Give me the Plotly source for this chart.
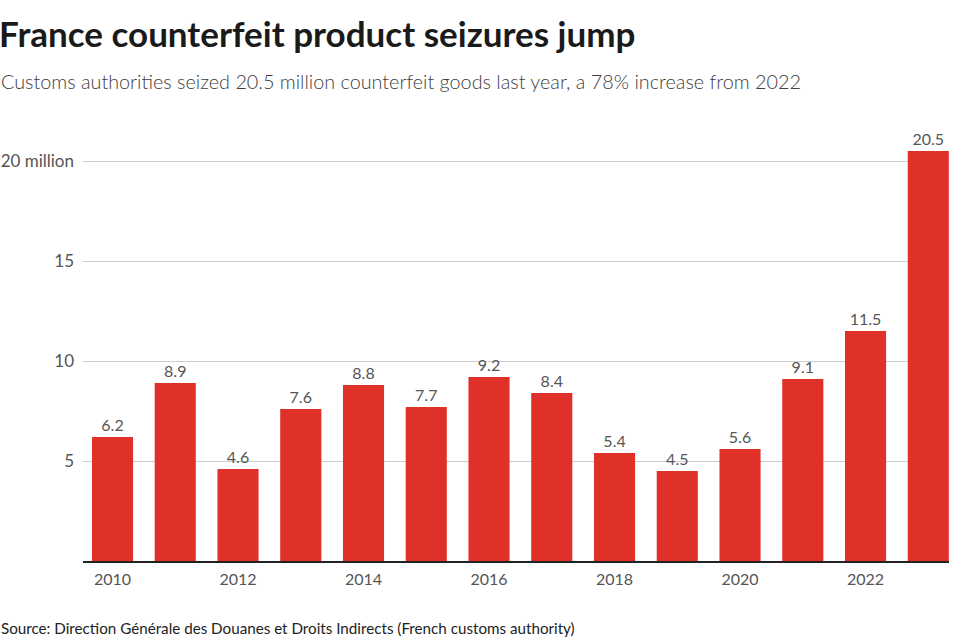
import plotly.graph_objects as go

years = list(range(2010, 2024))
values = [6.2, 8.9, 4.6, 7.6, 8.8, 7.7, 9.2, 8.4, 5.4, 4.5, 5.6, 9.1, 11.5, 20.5]
labels = ["6.2", "8.9", "4.6", "7.6", "8.8", "7.7", "9.2", "8.4", "5.4", "4.5", "5.6", "9.1", "11.5", "20.5"]
x_ticks = [2010, 2012, 2014, 2016, 2018, 2020, 2022]
y_ticks = [5, 10, 15, 20]
y_tick_text = ["5", "10", "15", "20 million"]

title = "France counterfeit product seizures jump"
subtitle = "Customs authorities seized 20.5 million counterfeit goods last year, a 78% increase from 2022"
source = "Source: Direction Générale des Douanes et Droits Indirects (French customs authority)"

W, H = 959, 642
ML, MR, MT, MB = 83, 10, 121, 81
PW = W - ML - MR
PH = H - MT - MB
FONT = "Source Sans Pro, Lato, Noto Sans, sans-serif"

fig = go.Figure(go.Bar(
    x=years, y=values, width=0.655,
    marker=dict(color="#e0302a", line=dict(width=0)),
    text=labels, textposition="outside", cliponaxis=False,
    textfont=dict(family=FONT, size=16, color="#555555"),
    hoverinfo="x+y",
))

def px_x(p):
    return (p - ML) / PW

def px_y(p):
    return (H - MB - p) / PH

fig.update_layout(
    width=W, height=H,
    margin=dict(l=ML, r=MR, t=MT, b=MB),
    paper_bgcolor="white", plot_bgcolor="white",
    showlegend=False,
    font=dict(family=FONT),
    bargap=0.35,
    xaxis=dict(
        range=[2009.53, 2023.33], tickvals=x_ticks, ticktext=[str(v) for v in x_ticks],
        showgrid=False, zeroline=False, showline=True, linecolor="#222222", linewidth=1.5,
        ticks="", ticklabelstandoff=3, automargin=False,
        tickfont=dict(family=FONT, size=16, color="#555555"),
    ),
    yaxis=dict(
        range=[0, 22], tickvals=y_ticks, ticktext=y_tick_text,
        showgrid=True, gridcolor="#cccccc", gridwidth=1, zeroline=False, showline=False,
        ticks="", ticklabelstandoff=8, automargin=False,
        tickfont=dict(family=FONT, size=17, color="#555555"),
    ),
    annotations=[
        dict(text="<b>" + title + "</b>", xref="paper", yref="paper", x=px_x(-3), y=px_y(33),
             xanchor="left", yanchor="middle", showarrow=False,
             font=dict(family=FONT, size=35, color="#1a1a1a")),
        dict(text=subtitle, xref="paper", yref="paper", x=px_x(-1), y=px_y(81),
             xanchor="left", yanchor="middle", showarrow=False,
             font=dict(family=FONT, size=19.8, color="#404040", weight=300)),
        dict(text=source, xref="paper", yref="paper", x=px_x(-1), y=px_y(628),
             xanchor="left", yanchor="middle", showarrow=False,
             font=dict(family=FONT, size=15.2, color="#222222")),
    ],
)

fig.write_html("out.html")
